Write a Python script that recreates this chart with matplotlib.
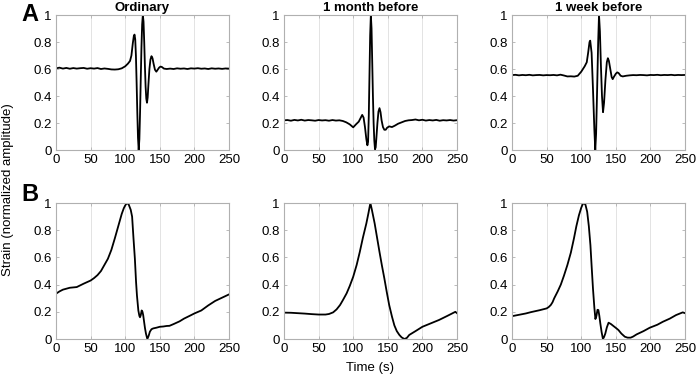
import matplotlib
matplotlib.use('Agg')
import matplotlib.pyplot as plt

plt.rcParams['font.family'] = ['Liberation Sans', 'DejaVu Sans']
plt.rcParams['font.size'] = 9

titles = ['Ordinary', '1 month before', '1 week before']

# row A: short-period strain records
a1_t = [0, 5, 10, 15, 20, 25, 30, 35, 40, 45, 50, 55, 60, 65, 70, 75, 80, 85, 90, 95,
        100, 104, 107, 109, 111, 112.5, 113.5, 114.5, 115.5, 116.5, 117.5, 118.5, 119.5,
        120.5, 121.5, 122.5, 123.5, 124.5, 125.5, 126.5, 127.5, 128.5, 129.5, 130.5, 131.5,
        132.5, 133.5, 135, 136.5, 138, 139.5, 141, 143, 145, 147, 149, 151, 153, 156, 160,
        165, 170, 175, 180, 185, 190, 195, 200, 205, 210, 215, 220, 225, 230, 235, 240, 245, 250]
a1_y = [0.605, 0.610, 0.603, 0.608, 0.602, 0.607, 0.603, 0.606, 0.608, 0.602, 0.606, 0.603,
        0.607, 0.600, 0.604, 0.601, 0.597, 0.596, 0.598, 0.605,
        0.620, 0.640, 0.660, 0.700, 0.790, 0.845, 0.855, 0.820, 0.700, 0.500, 0.280, 0.090, 0.000,
        0.080, 0.280, 0.530, 0.760, 0.930, 1.000, 0.950, 0.800, 0.620, 0.470, 0.380, 0.350,
        0.390, 0.480, 0.600, 0.670, 0.695, 0.680, 0.640, 0.595, 0.580, 0.595, 0.610, 0.618, 0.615, 0.603, 0.600,
        0.603, 0.600, 0.605, 0.602, 0.604, 0.600, 0.605, 0.603, 0.606, 0.602, 0.604, 0.600, 0.605, 0.602, 0.604, 0.601, 0.604, 0.603]

a2_t = [0, 5, 10, 15, 20, 25, 30, 35, 40, 45, 50, 55, 60, 65, 70, 75, 80, 85, 90, 95,
        100, 104, 108, 111, 113, 115, 117, 119, 120.5, 121.5, 122.5, 123.5, 124.5, 125.5,
        126.5, 127.5, 128.5, 129.5, 130.5, 131.5, 132.5, 133.5, 135, 136.5, 138, 139.5, 141,
        143, 145, 147, 149, 152, 156, 160, 165, 170, 175, 180, 185, 190, 195, 200, 205, 210,
        215, 220, 225, 230, 235, 240, 245, 250]
a2_y = [0.220, 0.222, 0.217, 0.223, 0.219, 0.224, 0.218, 0.222, 0.220, 0.217, 0.222, 0.219,
        0.221, 0.217, 0.222, 0.218, 0.220, 0.215, 0.205, 0.190,
        0.168, 0.190, 0.210, 0.240, 0.260, 0.240, 0.170, 0.080, 0.035, 0.060, 0.250, 0.550, 0.850, 1.000,
        0.900, 0.650, 0.400, 0.200, 0.070, 0.005, 0.020, 0.090, 0.200, 0.285, 0.310, 0.280, 0.220,
        0.170, 0.150, 0.150, 0.165, 0.175, 0.170, 0.180, 0.195, 0.205, 0.215, 0.220, 0.222, 0.226, 0.220, 0.224, 0.218, 0.222,
        0.219, 0.223, 0.217, 0.221, 0.219, 0.222, 0.218, 0.221]

a3_t = [0, 5, 10, 15, 20, 25, 30, 35, 40, 45, 50, 55, 60, 65, 70, 75, 80, 85, 90, 95,
        100, 105, 108, 110, 112, 113, 115, 117, 119, 120.3, 121.5, 123, 124.5, 125.7, 127,
        128.5, 130, 131.5, 133, 135, 137, 138.5, 140, 142, 144, 145.5, 147, 150, 152, 154, 157,
        160, 165, 170, 175, 180, 185, 190, 195, 200, 205, 210, 215, 220, 225, 230, 235, 240, 245, 250]
a3_y = [0.555, 0.557, 0.553, 0.556, 0.554, 0.557, 0.553, 0.555, 0.556, 0.553, 0.555, 0.554,
        0.556, 0.553, 0.558, 0.552, 0.545, 0.546, 0.544, 0.550,
        0.580, 0.620, 0.650, 0.720, 0.800, 0.810, 0.720, 0.450, 0.150, 0.000, 0.120, 0.450, 0.800, 1.000, 0.880,
        0.620, 0.400, 0.280, 0.350, 0.520, 0.650, 0.680, 0.660, 0.600, 0.540, 0.525, 0.540, 0.565, 0.575, 0.570, 0.550,
        0.545, 0.550, 0.553, 0.555, 0.554, 0.556, 0.555, 0.553, 0.556, 0.555, 0.557, 0.554, 0.556, 0.555, 0.557, 0.554, 0.556, 0.555, 0.556]

# row B: long-period strain records
b1_t = [0, 5, 10, 20, 30, 40, 50, 55, 60, 65, 70, 75, 80, 85, 90, 95, 98, 100, 102.5, 105,
        108, 110, 112, 114, 115.7, 117, 119, 120.5, 121.4, 122.5, 123.8, 125, 126, 127.5,
        128.6, 130, 132, 134, 135.7, 138, 140.5, 145, 150, 155, 160, 164, 170, 178.6, 185,
        193, 200, 210, 220, 230, 240, 250]
b1_y = [0.333, 0.350, 0.363, 0.377, 0.382, 0.407, 0.430, 0.448, 0.470, 0.500, 0.545, 0.590,
        0.655, 0.740, 0.830, 0.920, 0.962, 0.982, 1.000, 0.990,
        0.950, 0.900, 0.740, 0.590, 0.420, 0.320, 0.210, 0.170, 0.160, 0.175, 0.210, 0.200,
        0.176, 0.120, 0.080, 0.040, 0.000, 0.025, 0.054, 0.072, 0.078, 0.083, 0.090, 0.092,
        0.096, 0.097, 0.110, 0.130, 0.150, 0.170, 0.188, 0.210, 0.247, 0.280, 0.304, 0.328]

b2_t = [0, 10, 20, 30, 40, 50, 60, 65, 71, 76, 81, 85, 90.5, 95, 100, 105, 109.5, 114, 119,
        122, 124.8, 127, 131, 134.5, 138, 141.5, 145, 148.5, 152, 156, 159.5, 163, 166.7, 170,
        174, 177.5, 181, 190, 200, 212, 224, 236, 247.6, 250]
b2_y = [0.194, 0.193, 0.190, 0.187, 0.183, 0.180, 0.180, 0.184, 0.196, 0.218, 0.250, 0.285,
        0.336, 0.390, 0.458, 0.545, 0.640, 0.745, 0.850, 0.925, 1.000, 0.950, 0.850, 0.745,
        0.640, 0.540, 0.446, 0.345, 0.250, 0.165, 0.100, 0.058, 0.030, 0.012, 0.000, 0.008,
        0.030, 0.058, 0.090, 0.115, 0.140, 0.170, 0.200, 0.190]

b3_t = [0, 10, 20, 27.6, 40, 50, 53, 56, 58.5, 61, 66, 70.5, 75, 80, 85, 89.5, 93, 96.7, 100,
        102.9, 106, 108.6, 111, 113.3, 115, 117, 119, 120.5, 122, 123.5, 124.8, 126.2, 127.6,
        129.5, 131.4, 133, 134.8, 137, 139.5, 143, 146.7, 150, 153.8, 158, 163, 167, 171.4,
        175, 180, 190, 199, 210, 218, 228, 237, 246.7, 250]
b3_y = [0.168, 0.178, 0.188, 0.198, 0.212, 0.225, 0.235, 0.250, 0.270, 0.300, 0.350, 0.400,
        0.465, 0.544, 0.635, 0.740, 0.830, 0.910, 0.965, 1.000, 0.990, 0.936, 0.830, 0.690,
        0.540, 0.370, 0.230, 0.147, 0.170, 0.215, 0.213, 0.170, 0.115, 0.050, 0.000, 0.015,
        0.040, 0.085, 0.120, 0.110, 0.095, 0.082, 0.066, 0.040, 0.017, 0.010, 0.010, 0.018,
        0.034, 0.058, 0.083, 0.105, 0.127, 0.150, 0.176, 0.196, 0.190]

series = [[(a1_t, a1_y), (a2_t, a2_y), (a3_t, a3_y)],
          [(b1_t, b1_y), (b2_t, b2_y), (b3_t, b3_y)]]

fig = plt.figure(figsize=(6.99, 3.79), dpi=100)

lefts = [0.0801, 0.4063, 0.7325]
bottoms = [0.6042, 0.1055]
heights = [0.3562, 0.3588]
box_color = '#b0b0b0'

for r in range(2):
    for c in range(3):
        ax = fig.add_axes([lefts[c], bottoms[r], 0.2475, heights[r]])
        t, y = series[r][c]
        ax.plot(t, y, color='black', linewidth=1.3)
        ax.set_xlim(0, 250)
        ax.set_ylim(0, 1)
        ax.set_xticks([0, 50, 100, 150, 200, 250])
        ax.set_yticks([0, 0.2, 0.4, 0.6, 0.8, 1])
        ax.set_yticklabels(['0', '0.2', '0.4', '0.6', '0.8', '1'])
        ax.grid(axis='x', color='#e3e3e3', linewidth=0.7)
        ax.set_axisbelow(True)
        for s in ax.spines.values():
            s.set_color(box_color)
            s.set_linewidth(0.8)
        ax.tick_params(direction='in', length=2.5, width=0.6, color=box_color,
                       top=True, right=True, labelsize=9.5, pad=3)
        if r == 0:
            ax.set_title(titles[c], fontsize=9.5, fontweight='bold', pad=3)

fig.text(0.031, 0.962, 'A', fontsize=17, fontweight='bold', va='center')
fig.text(0.031, 0.487, 'B', fontsize=17, fontweight='bold', va='center')
fig.text(0.012, 0.50, 'Strain (normalized amplitude)', rotation=90, fontsize=9.5,
         va='center', ha='center')
fig.text(0.529, 0.028, 'Time (s)', fontsize=9.5, ha='center', va='center')

fig.savefig('out.png', dpi=100)
